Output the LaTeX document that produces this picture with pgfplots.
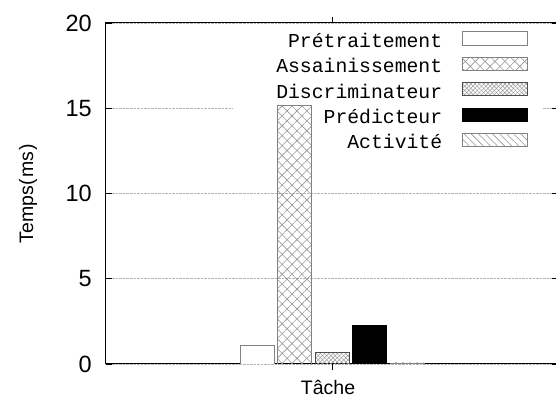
\documentclass[border=0pt]{standalone}
\usepackage{fontspec}
\setmainfont{Liberation Sans}
\newfontfamily\legfont{Liberation Mono}
\usepackage{pgfplots}
\pgfplotsset{compat=1.18}
\usetikzlibrary{patterns.meta}
\definecolor{bordergray}{RGB}{130,130,130}
\definecolor{patgray}{RGB}{150,150,150}
\begin{document}
\begin{tikzpicture}
\useasboundingbox (-106bp,-34bp) rectangle (450bp,364bp);
\clip (-106bp,-34bp) rectangle (450bp,364bp);
\begin{axis}[
 at={(0,0)}, anchor=south west,
 scale only axis, width=452bp, height=341bp,
 xmin=-1, xmax=1, ymin=0, ymax=20,
 ytick={0,5,10,15,20}, xtick={0}, xticklabels={},
 ybar=3.5bp, bar width=34bp,
 ymajorgrids, major grid style={densely dotted, gray!60, line width=0.6bp},
 major tick length=6bp,
 tick style={black, line width=0.8bp},
 axis line style={line width=1bp},
 /pgf/number format/assume math mode=true,
 yticklabel style={font=\fontsize{23.5bp}{26bp}\selectfont, inner sep=0pt, xshift=-14bp},
 ylabel={Temps(\hspace{1.5bp}ms\hspace{1.5bp})}, xlabel={Tâche},
 every axis y label/.style={at={(rel axis cs:0,0.5)}, xshift=-78bp, rotate=90, anchor=center, font=\fontsize{19.5bp}{22bp}\selectfont},
 every axis x label/.style={at={(rel axis cs:0.5,0)}, xshift=-4bp, yshift=-23bp, anchor=center, font=\fontsize{19.5bp}{22bp}\selectfont},
 legend plot pos=right, legend cell align=right,
 legend image code/.code={\draw[#1] (0bp,-3.5bp) rectangle (65bp,9.5bp);},
 legend style={at={(rel axis cs:0.9336,1)}, yshift=-8.5bp, anchor=north east, draw=none, fill=none,
   font=\legfont\fontsize{19.75bp}{22bp}\selectfont, inner sep=0pt, outer sep=0pt,
   row sep=6.5bp, column sep=20bp, nodes={inner sep=0pt, text height=15bp, text depth=3bp}},
]
\fill[white] (rel axis cs:0.281,0.622) rectangle (rel axis cs:0.967,0.9795);
\addplot[draw=bordergray, fill=white, line width=0.8bp] coordinates {(0,1.12)};
\addlegendentry{Prétraitement}
\addplot[draw=bordergray, line width=0.8bp,
  pattern={Lines[angle=45,distance=7bp,line width=0.6bp]}, pattern color=patgray,
  postaction={pattern={Lines[angle=-45,distance=7bp,line width=0.6bp]}, pattern color=patgray}] coordinates {(0,15.15)};
\addlegendentry{Assainissement}
\addplot[draw=black!70, line width=0.8bp,
  pattern={Lines[angle=45,distance=3bp,line width=0.5bp]}, pattern color=patgray,
  postaction={pattern={Lines[angle=-45,distance=3bp,line width=0.5bp]}, pattern color=patgray}] coordinates {(0,0.66)};
\addlegendentry{Discriminateur}
\addplot[draw=black, fill=black, line width=0.8bp] coordinates {(0,2.29)};
\addlegendentry{Prédicteur}
\addplot[draw=bordergray, line width=0.8bp,
  pattern={Lines[angle=-45,distance=5bp,line width=0.6bp]}, pattern color=patgray] coordinates {(0,0.06)};
\addlegendentry{Activité}
\end{axis}
\end{tikzpicture}
\end{document}
